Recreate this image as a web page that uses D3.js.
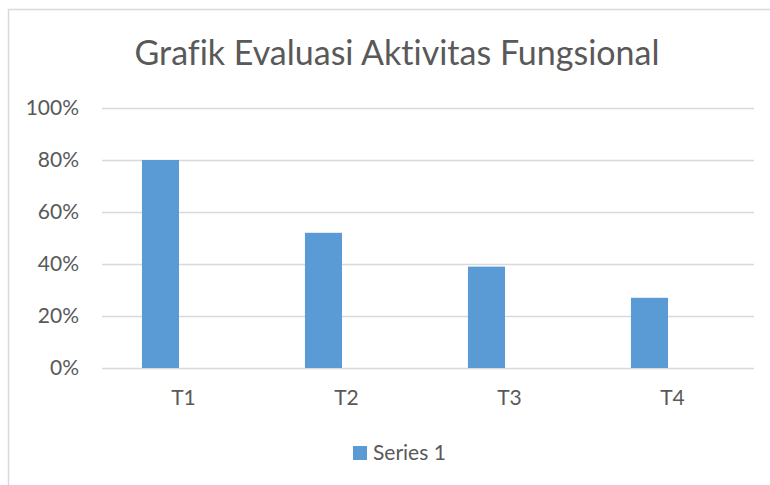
<!DOCTYPE html>
<html>
<head>
<meta charset="utf-8">
<script src="https://cdn.jsdelivr.net/npm/d3@7"></script>
<style>
  body { margin: 0; background: #fff; }
  text { font-family: Lato, sans-serif; fill: #595959; font-variant-ligatures: none; font-feature-settings: "liga" 0; }
</style>
</head>
<body>
<div id="chart"></div>
<script>
// chart data
var categories = ["T1", "T2", "T3", "T4"];
var series1 = [0.80, 0.52, 0.39, 0.27];
var yTicks = [0, 0.2, 0.4, 0.6, 0.8, 1.0];
var seriesName = "Series 1";
var title = "Grafik Evaluasi Aktivitas Fungsional";

var W = 770, H = 485;
var margin = {top: 108, right: 16, bottom: 117, left: 102},
    width = W - margin.left - margin.right,
    height = H - margin.top - margin.bottom;

var svg = d3.select("#chart")
  .append("svg")
  .attr("width", W)
  .attr("height", H);

// outer chart border (only top and left visible)
svg.append("path")
  .attr("d", "M8.5," + H + "V9.5H" + W)
  .attr("fill", "none")
  .attr("stroke", "#d9d9d9")
  .attr("stroke-width", 1.5);

var g = svg.append("g")
  .attr("transform", "translate(" + margin.left + "," + margin.top + ")");

var x = d3.scaleBand().domain(categories).range([0, width]);
var y = d3.scaleLinear().domain([0, 1]).range([height, 0]);

// clustered slot: series 1 takes the left slot of two
var slot = d3.scaleBand().domain(["s1", "s2"])
  .range([0, x.bandwidth()])
  .paddingInner(0)
  .paddingOuter(1.2);

// gridlines
g.selectAll(".grid")
  .data(yTicks)
  .enter()
  .append("line")
  .attr("x1", 0)
  .attr("x2", width)
  .attr("y1", function(d) { return Math.round(y(d)) + 0.5; })
  .attr("y2", function(d) { return Math.round(y(d)) + 0.5; })
  .attr("stroke", "#d9d9d9")
  .attr("stroke-width", 1.5);

// bars
g.selectAll(".bar")
  .data(series1)
  .enter()
  .append("rect")
  .attr("class", "bar")
  .attr("x", function(d, i) { return x(categories[i]) + slot("s1") - 4.5; })
  .attr("width", slot.bandwidth())
  .attr("y", function(d) { return y(d); })
  .attr("height", function(d) { return height - y(d); })
  .attr("fill", "#5b9bd5");

// y axis labels
var yAxis = g.append("g")
  .call(d3.axisLeft(y).tickValues(yTicks).tickFormat(d3.format(".0%")).tickSize(0).tickPadding(23));
yAxis.select(".domain").remove();
yAxis.selectAll("text")
  .attr("font-size", 21)
  .attr("font-family", "Lato")
  .attr("fill", "#595959");

// x axis labels
var xAxis = g.append("g")
  .attr("transform", "translate(0," + height + ")")
  .call(d3.axisBottom(x).tickSize(0).tickPadding(22));
xAxis.select(".domain").remove();
xAxis.selectAll("text")
  .attr("font-size", 21)
  .attr("font-family", "Lato")
  .attr("fill", "#595959");

// title
svg.append("text")
  .attr("x", 397)
  .attr("y", 65)
  .attr("text-anchor", "middle")
  .attr("font-size", 34)
  .text(title);

// legend
var legend = svg.append("g")
  .attr("transform", "translate(353,446)");
legend.append("rect")
  .attr("width", 14)
  .attr("height", 14)
  .attr("fill", "#5b9bd5");
legend.append("text")
  .attr("x", 20)
  .attr("y", 14)
  .attr("font-size", 21)
  .text(seriesName);
</script>
</body>
</html>
